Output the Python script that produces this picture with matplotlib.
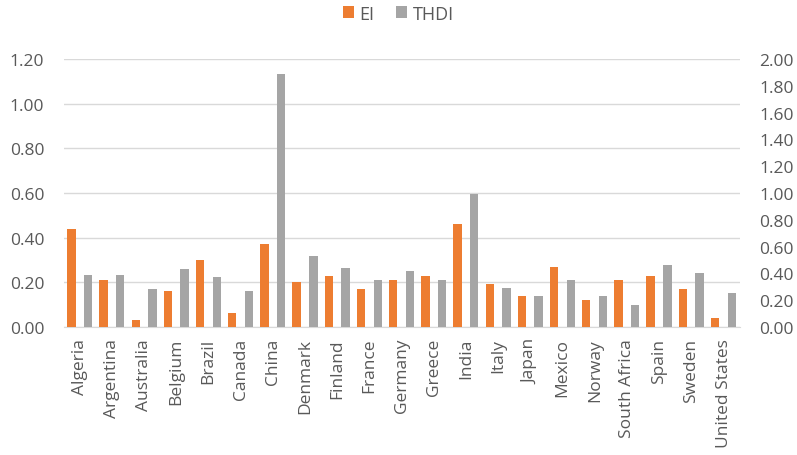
import matplotlib
matplotlib.use("Agg")
import matplotlib.pyplot as plt
import numpy as np

countries = ["Algeria", "Argentina", "Australia", "Belgium", "Brazil", "Canada", "China",
             "Denmark", "Finland", "France", "Germany", "Greece", "India", "Italy", "Japan",
             "Mexico", "Norway", "South Africa", "Spain", "Sweden", "United States"]
ei = [0.44, 0.21, 0.03, 0.16, 0.30, 0.06, 0.37, 0.20, 0.23, 0.17, 0.21, 0.23, 0.46,
      0.19, 0.14, 0.27, 0.12, 0.21, 0.23, 0.17, 0.04]
thdi = [0.39, 0.39, 0.28, 0.43, 0.37, 0.27, 1.89, 0.53, 0.44, 0.35, 0.42, 0.35, 0.99,
        0.29, 0.23, 0.35, 0.23, 0.16, 0.46, 0.40, 0.25]
left_ticks = [0.0, 0.2, 0.4, 0.6, 0.8, 1.0, 1.2]
right_ticks = [0.0, 0.2, 0.4, 0.6, 0.8, 1.0, 1.2, 1.4, 1.6, 1.8, 2.0]

plt.rcParams['font.family'] = ['Open Sans', 'DejaVu Sans']
ORANGE = "#ED7D31"
GREY = "#A5A5A5"
TXT = "#595959"
GRID = "#D9D9D9"
FS = 12.5

fig = plt.figure(figsize=(7.97, 4.56), dpi=100)
ax = fig.add_axes([0.080, 0.281, 0.848, 0.587])
ax2 = ax.twinx()

x = np.arange(len(countries))
w = 0.26
b1 = ax.bar(x - 0.265, ei, width=w, color=ORANGE, zorder=3, label="EI")
b2 = ax2.bar(x + 0.255, thdi, width=w, color=GREY, zorder=3, label="THDI")

ax.set_xlim(-0.5, len(countries) - 0.5)
ax.set_ylim(0, 1.2)
ax2.set_ylim(0, 2.0)
ax.set_yticks(left_ticks)
ax.set_yticklabels([f"{v:.2f}" for v in left_ticks])
ax2.set_yticks(right_ticks)
ax2.set_yticklabels([f"{v:.2f}" for v in right_ticks])
ax.yaxis.grid(True, color=GRID, linewidth=1, zorder=0)
ax.set_axisbelow(True)

ax.set_xticks(x)
ax.set_xticklabels(countries, rotation=90, ha="center", va="top")

for a in (ax, ax2):
    for s in a.spines.values():
        s.set_visible(False)
    a.tick_params(axis="both", length=0, labelsize=FS, colors=TXT)
ax.tick_params(axis="y", pad=14)
ax2.tick_params(axis="y", pad=14)
ax.tick_params(axis="x", pad=8)
ax.spines["bottom"].set_visible(True)
ax.spines["bottom"].set_color(GRID)

fig.legend(handles=[b1, b2], labels=["EI", "THDI"], loc="center", bbox_to_anchor=(0.5, 0.968),
           ncol=2, frameon=False, fontsize=13, labelcolor=TXT, handlelength=0.6, handleheight=0.6,
           handletextpad=0.3, columnspacing=1.2)

fig.savefig("out.png", dpi=100)
